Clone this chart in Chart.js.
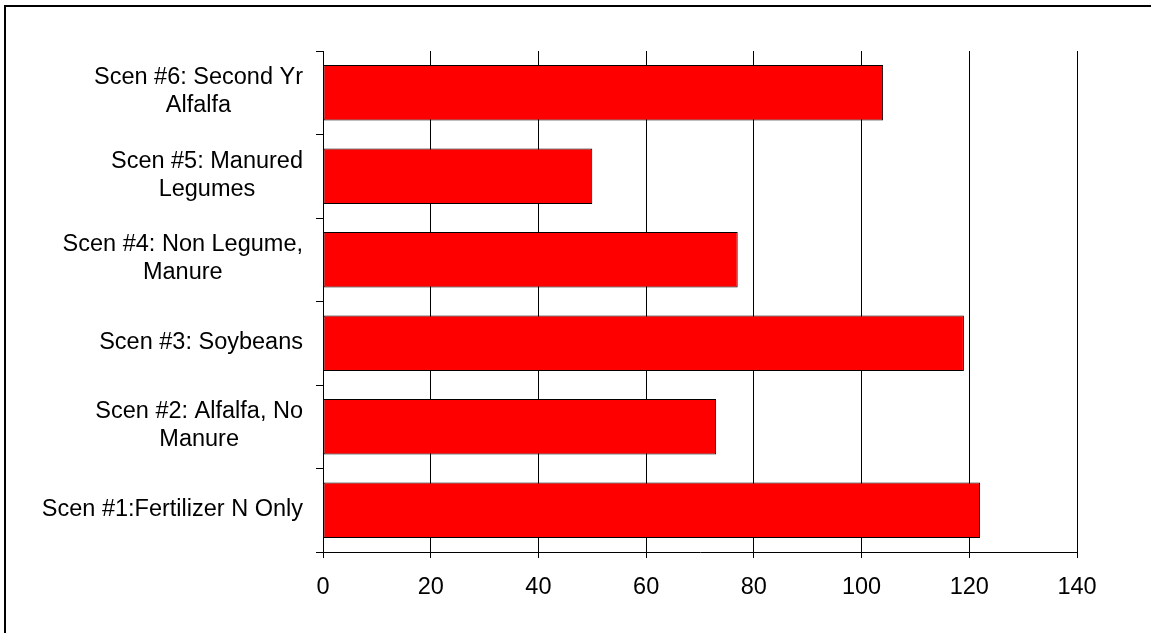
<!DOCTYPE html>
<html>
<head>
<meta charset="utf-8">
<script src="https://cdn.jsdelivr.net/npm/chart.js@4/dist/chart.umd.min.js"></script>
<style>
  html, body { margin: 0; padding: 0; background: #fff; }
  #wrap { position: absolute; left: 0; top: 0; width: 1151px; height: 633px; }
</style>
</head>
<body>
<div id="wrap"><canvas id="scenChart"></canvas></div>
<script>
// Categories listed top to bottom as they appear on the chart
const scenarios = [
    ['Scen #6: Second Yr', 'Alfalfa'],
    ['Scen #5: Manured', 'Legumes'],
    ['Scen #4: Non Legume,', 'Manure'],
    'Scen #3: Soybeans',
    ['Scen #2: Alfalfa, No', 'Manure'],
    'Scen #1:Fertilizer N Only'
];
const values = [104, 50, 77, 119, 73, 122];
const xTicks = [0, 20, 40, 60, 80, 100, 120, 140];

const FONT = '"Liberation Sans", Arial, sans-serif';
const FONT_SIZE = 23.5;

// Frame around the picture (top and left edges only visible)
const framePlugin = {
    id: 'frame',
    beforeDraw(chart) {
        const ctx = chart.ctx;
        ctx.save();
        ctx.strokeStyle = '#000';
        ctx.lineWidth = 2;
        ctx.beginPath();
        ctx.moveTo(5, 633);
        ctx.lineTo(5, 6);
        ctx.lineTo(1151, 6);
        ctx.stroke();
        ctx.restore();
    }
};

// Category labels: block right aligned to the axis, lines centered inside the block
const catLabels = {
    id: 'catLabels',
    afterDraw(chart) {
        const yScale = chart.scales.y;
        const ctx = chart.ctx;
        const lh = 28.3;
        ctx.save();
        ctx.font = FONT_SIZE + 'px ' + FONT;
        ctx.fillStyle = '#000';
        ctx.textAlign = 'center';
        ctx.textBaseline = 'middle';
        scenarios.forEach(function(lab, i) {
            const lines = Array.isArray(lab) ? lab : [lab];
            const w = Math.max.apply(null, lines.map(function(l) { return ctx.measureText(l).width; }));
            const cx = yScale.right - 20 - w / 2;
            const cy = yScale.getPixelForTick(i) - 1;
            lines.forEach(function(l, j) {
                ctx.fillText(l, cx, cy + (j - (lines.length - 1) / 2) * lh);
            });
        });
        ctx.restore();
    }
};

new Chart(document.getElementById('scenChart'), {
    type: 'bar',
    data: {
        labels: scenarios,
        datasets: [{
            data: values,
            backgroundColor: '#ff0000',
            borderColor: '#000',
            borderWidth: 1,
            borderSkipped: false,
            categoryPercentage: 1,
            barPercentage: 0.667
        }]
    },
    options: {
        indexAxis: 'y',
        responsive: true,
        maintainAspectRatio: false,
        animation: false,
        layout: {
            padding: { top: 51, right: 74, bottom: 0, left: 0 }
        },
        scales: {
            x: {
                min: 0,
                max: 140,
                afterBuildTicks: function(scale) {
                    scale.ticks = xTicks.map(function(v) { return { value: v }; });
                },
                afterFit: function(scale) { scale.height = 81; },
                grid: {
                    color: '#000',
                    lineWidth: 1,
                    drawTicks: true,
                    tickLength: 6
                },
                border: { color: '#000', width: 1 },
                ticks: {
                    color: '#000',
                    font: { family: FONT, size: FONT_SIZE },
                    padding: 15,
                    maxRotation: 0
                }
            },
            y: {
                afterFit: function(scale) { scale.width = 323; },
                grid: {
                    offset: true,
                    drawOnChartArea: false,
                    drawTicks: true,
                    tickLength: 7,
                    color: '#000'
                },
                border: { color: '#000', width: 1 },
                ticks: {
                    color: 'rgba(0,0,0,0)',
                    font: { family: FONT, size: FONT_SIZE }
                }
            }
        },
        plugins: {
            legend: { display: false },
            tooltip: { enabled: false }
        }
    },
    plugins: [framePlugin, catLabels]
});
</script>
</body>
</html>
